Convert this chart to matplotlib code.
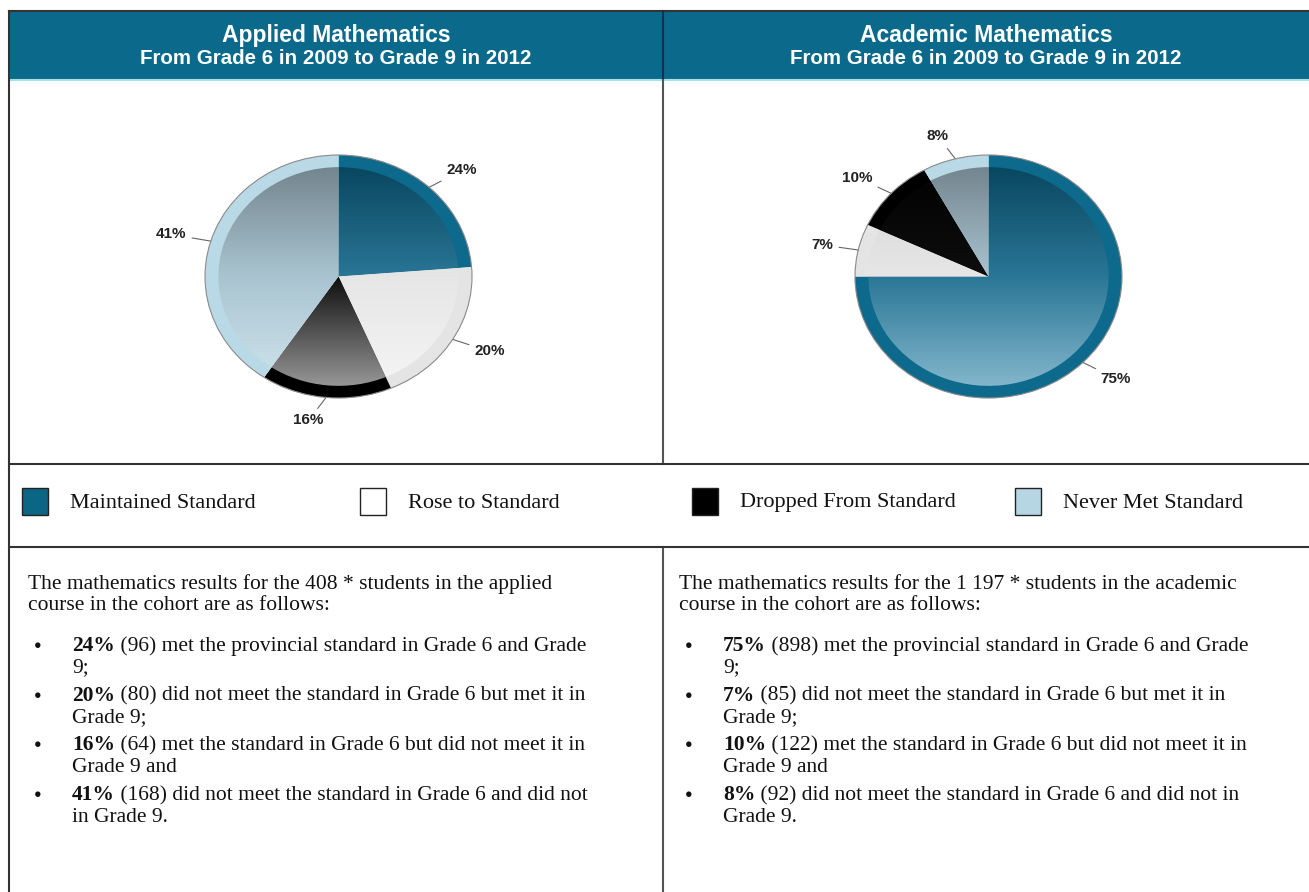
import numpy as np
import matplotlib
matplotlib.use("Agg")
import matplotlib.pyplot as plt
from matplotlib.patches import Wedge, Rectangle, Ellipse
from matplotlib.colors import LinearSegmentedColormap

W, H = 1309, 892

# data
categories = ['Maintained Standard', 'Rose to Standard', 'Dropped From Standard', 'Never Met Standard']
applied_pct = [24, 20, 16, 41]
academic_pct = [75, 7, 10, 8]
applied_counts = [96, 80, 64, 168]
academic_counts = [898, 85, 122, 92]
totals = ['408', '1 197']
courses = ['applied', 'academic']
titles = ['Applied Mathematics', 'Academic Mathematics']
subtitle = 'From Grade 6 in 2009 to Grade 9 in 2012'
applied_lines = [['met the provincial standard in Grade 6 and Grade', '9;'],
                 ['did not meet the standard in Grade 6 but met it in', 'Grade 9;'],
                 ['met the standard in Grade 6 but did not meet it in', 'Grade 9 and'],
                 ['did not meet the standard in Grade 6 and did not', 'in Grade 9.']]
academic_lines = [['met the provincial standard in Grade 6 and Grade', '9;'],
                  ['did not meet the standard in Grade 6 but met it in', 'Grade 9;'],
                  ['met the standard in Grade 6 but did not meet it in', 'Grade 9 and'],
                  ['did not meet the standard in Grade 6 and did not in', 'Grade 9.']]

# styles
teal = '#0B6A8C'
rim_colors = ['#0D6A8C', '#E4E4E4', '#000000', '#BAD9E6']
legend_colors = ['#0B6585', '#FFFFFF', '#000000', '#B7D6E3']
grad_colors = [['#05425A', '#2A7696', '#8CBDD1'],
               ['#D4D4D4', '#E6E6E6', '#F6F6F6'],
               ['#000000', '#0E0E0E', '#A5A5A5'],
               ['#6E7F88', '#A9C4D0', '#D4E8F0']]
serif = ['Liberation Serif', 'DejaVu Serif']
sans = ['Liberation Sans', 'DejaVu Sans']
fs = 15.5

fig = plt.figure(figsize=(W / 100, H / 100), dpi=100)
bg = fig.add_axes([0, 0, 1, 1])
bg.set_xlim(0, W)
bg.set_ylim(H, 0)
bg.axis('off')

# table frame
lc = '#333333'
xl, xm = 9, 663
bg.add_patch(Rectangle((xl, 11), W - xl, 68, facecolor=teal, edgecolor='none', zorder=1))
bg.plot([xl, W], [79.5, 79.5], color='#A6E2EE', lw=1.5, zorder=2)
bg.plot([xl, W], [11, 11], color=lc, lw=1.5, zorder=3)
bg.plot([xl, xl], [11, H], color=lc, lw=1.5, zorder=3)
bg.plot([xm, xm], [11, 79], color='#14304A', lw=1.5, zorder=3)
bg.plot([xm, xm], [80, 464], color='#555555', lw=1.5, zorder=3)
bg.plot([xm, xm], [547, H], color='#555555', lw=1.5, zorder=3)
bg.plot([xl, W], [464, 464], color=lc, lw=1.5, zorder=3)
bg.plot([xl, W], [547, 547], color=lc, lw=1.5, zorder=3)

# headers
for i, cxh in enumerate([(xl + xm) / 2, (xm + W) / 2]):
    bg.text(cxh, 35.5, titles[i], color='white', fontsize=16.5, fontweight='bold',
            family=sans, ha='center', va='center')
    bg.text(cxh, 58, subtitle, color='white', fontsize=14.8, fontweight='bold',
            family=sans, ha='center', va='center')


def draw_pie(cx, cy, values):
    rx, ry = 133.5, 121.5
    ax = fig.add_axes([(cx - 1.5 * rx) / W, 1 - (cy + 1.5 * ry) / H, 3 * rx / W, 3 * ry / H])
    wedges, _ = ax.pie(values, colors=rim_colors, startangle=90, counterclock=False,
                       radius=1.0, wedgeprops=dict(linewidth=0))
    ax.set_aspect('auto')
    ax.axis('off')
    grad = np.linspace(0, 1, 256).reshape(-1, 1)
    for k, w in enumerate(wedges):
        inner = Wedge((0, 0), 0.9, w.theta1, w.theta2, facecolor='none', edgecolor='none')
        ax.add_patch(inner)
        cmap = LinearSegmentedColormap.from_list('g%d' % k, grad_colors[k])
        im = ax.imshow(grad, cmap=cmap, extent=(-1, 1, -1, 1), origin='upper',
                       aspect='auto', zorder=2)
        im.set_clip_path(inner)
        mid = np.deg2rad((w.theta1 + w.theta2) / 2)
        c, s = np.cos(mid), np.sin(mid)
        ax.annotate('%d%%' % values[k], xy=(c, s), xytext=(1.19 * c, 1.19 * s),
                    ha='left' if c > 0 else 'right', va='center', fontsize=11,
                    fontweight='bold', family=sans, color='#222222',
                    arrowprops=dict(arrowstyle='-', color='#666666', lw=0.8,
                                    shrinkA=2, shrinkB=0))
    ax.add_patch(Ellipse((0, 0), 2, 2, facecolor='none', edgecolor='#8A8A8A', lw=0.8, zorder=3))
    ax.set_xlim(-1.5, 1.5)
    ax.set_ylim(-1.5, 1.5)


draw_pie(338.5, 276.5, applied_pct)
draw_pie(988.5, 276.5, academic_pct)

# legend row
box_x = [22, 360, 692, 1015]
for k, name in enumerate(categories):
    bg.add_patch(Rectangle((box_x[k], 488), 26, 27, facecolor=legend_colors[k],
                           edgecolor='#222222', lw=1.0, zorder=3))
    bg.text(box_x[k] + 48, 503, name, fontsize=16, family=serif, color='#111111',
            ha='left', va='center')

# description text
fig.canvas.draw()
renderer = fig.canvas.get_renderer()
inv = bg.transData.inverted()
pct_sets = [applied_pct, academic_pct]
count_sets = [applied_counts, academic_counts]
line_sets = [applied_lines, academic_lines]
for i, x0 in enumerate([28, 679]):
    bg.text(x0, 589, 'The mathematics results for the %s * students in the %s' % (totals[i], courses[i]),
            fontsize=fs, family=serif, color='#111111', ha='left', va='baseline')
    bg.text(x0, 610.5, 'course in the cohort are as follows:',
            fontsize=fs, family=serif, color='#111111', ha='left', va='baseline')
    for k in range(4):
        yb = 651 + k * 49.7
        bg.text(x0 + 10, yb - 5, '\u25cf', fontsize=9, family=sans, color='#111111',
                ha='center', va='center')
        tb = bg.text(x0 + 44, yb, '%d%%' % pct_sets[i][k], fontsize=fs, family=serif,
                     fontweight='bold', color='#111111', ha='left', va='baseline')
        bb = tb.get_window_extent(renderer)
        xe = inv.transform((bb.x1, bb.y0))[0]
        bg.text(xe, yb, ' (%d) %s' % (count_sets[i][k], line_sets[i][k][0]), fontsize=fs,
                family=serif, color='#111111', ha='left', va='baseline')
        bg.text(x0 + 44, yb + 21.5, line_sets[i][k][1], fontsize=fs, family=serif,
                color='#111111', ha='left', va='baseline')

fig.savefig('out.png', dpi=100, facecolor='white')
